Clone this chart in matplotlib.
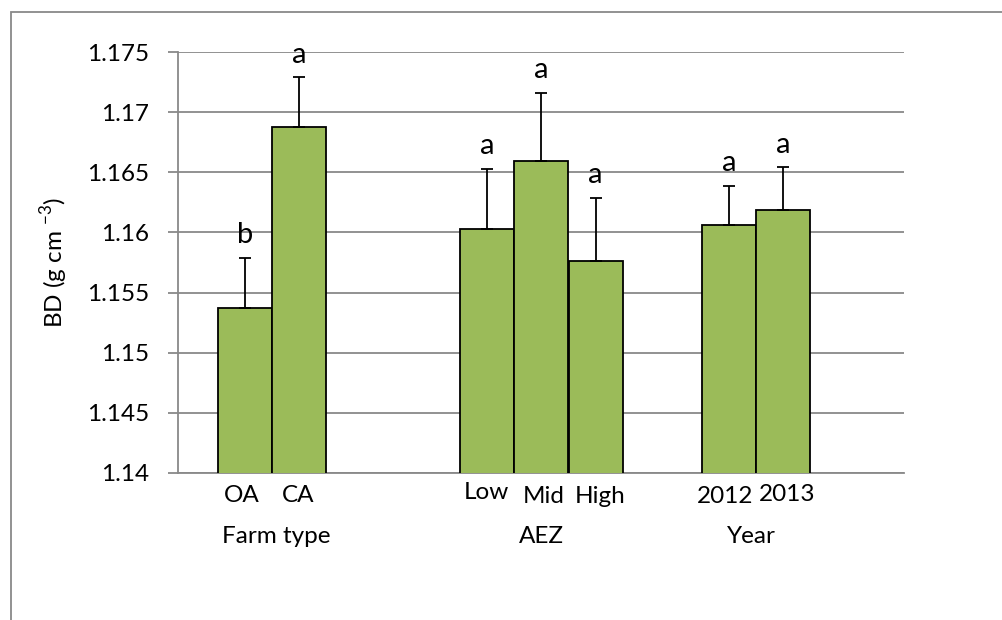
import matplotlib.pyplot as plt
from matplotlib.patches import Rectangle
import numpy as np

plt.rcParams['font.family'] = ['Lato', 'DejaVu Sans']
plt.rcParams['mathtext.fontset'] = 'custom'
plt.rcParams['mathtext.rm'] = 'Lato'

# Bulk density by group (mean, standard error, letter)
categorias = ['OA', 'CA', 'Low', 'Mid', 'High', '2012', '2013']
bd_media = [1.1537, 1.1688, 1.1603, 1.1659, 1.1576, 1.1606, 1.1619]
bd_erro = [0.0042, 0.0041, 0.0050, 0.0057, 0.0053, 0.0033, 0.0035]
letras = ['b', 'a', 'a', 'a', 'a', 'a', 'a']
grupos = ['Farm type', 'AEZ', 'Year']

# posicoes das barras (em larguras de barra) e ajustes dos rotulos
pos = np.array([1.24, 2.24, 5.72, 6.72, 7.73, 10.2, 11.2])
desloc_rotulo = [-0.064, -0.018, -0.01, 0.046, 0.08, -0.065, 0.083]
alt_rotulo = [-0.069, -0.069, -0.062, -0.071, -0.071, -0.071, -0.0665]
pos_grupo = [1.814, 6.72, 10.607]

fs = 17.5
cinza = '#898989'
fig = plt.figure(figsize=(10.03, 6.2), dpi=100)
ax = fig.add_axes([0.1775, 0.2371, 0.9013 - 0.1775, 0.9161 - 0.2371])

ax.bar(pos, bd_media, width=1.0, color='#9BBB59', edgecolor='black',
       linewidth=1.3, zorder=3)
ax.errorbar(pos, bd_media, yerr=[np.zeros(len(bd_erro)), bd_erro], fmt='none',
            ecolor='black', elinewidth=1.3, capsize=4, capthick=1.3, zorder=4)

for x, m, e, l in zip(pos, bd_media, bd_erro, letras):
    ax.annotate(l, (x, m + e), xytext=(0, 10.5), textcoords='offset points',
                ha='center', va='baseline', fontsize=21)

ax.set_xlim(0, 13.44)
ax.set_ylim(1.14, 1.175)
ax.set_yticks(np.arange(1.14, 1.1751, 0.005))
ax.set_yticklabels(['1.14', '1.145', '1.15', '1.155', '1.16', '1.165', '1.17', '1.175'])
ax.set_xticks([])
ax.yaxis.grid(True, color=cinza, linewidth=1.3, zorder=0)
ax.set_axisbelow(True)
for lado in ['top', 'right']:
    ax.spines[lado].set_visible(False)
for lado in ['left', 'bottom']:
    ax.spines[lado].set_color(cinza)
    ax.spines[lado].set_linewidth(1.3)
ax.tick_params(axis='y', length=7, width=1.3, color=cinza, pad=13.7, labelsize=fs)

# rotulos das categorias e dos grupos
trans = ax.get_xaxis_transform()
for x, c, dx, dy in zip(pos, categorias, desloc_rotulo, alt_rotulo):
    ax.text(x + dx, dy, c, transform=trans, ha='center', va='baseline', fontsize=fs)
for x, g in zip(pos_grupo, grupos):
    ax.text(x, -0.1663, g, transform=trans, ha='center', va='baseline', fontsize=fs)

ax.set_ylabel(r'BD (g cm $^{\mathregular{-3}}$)', fontsize=fs)
ax.yaxis.label.set_verticalalignment('baseline')
ax.yaxis.set_label_coords(-0.1584, 0.5)

# moldura do grafico
fig.patches.append(Rectangle((0.0105, -0.1), 1.2, 1.08, transform=fig.transFigure,
                             fill=False, edgecolor=cinza, linewidth=1.3))

fig.savefig('out.png', dpi=100)
